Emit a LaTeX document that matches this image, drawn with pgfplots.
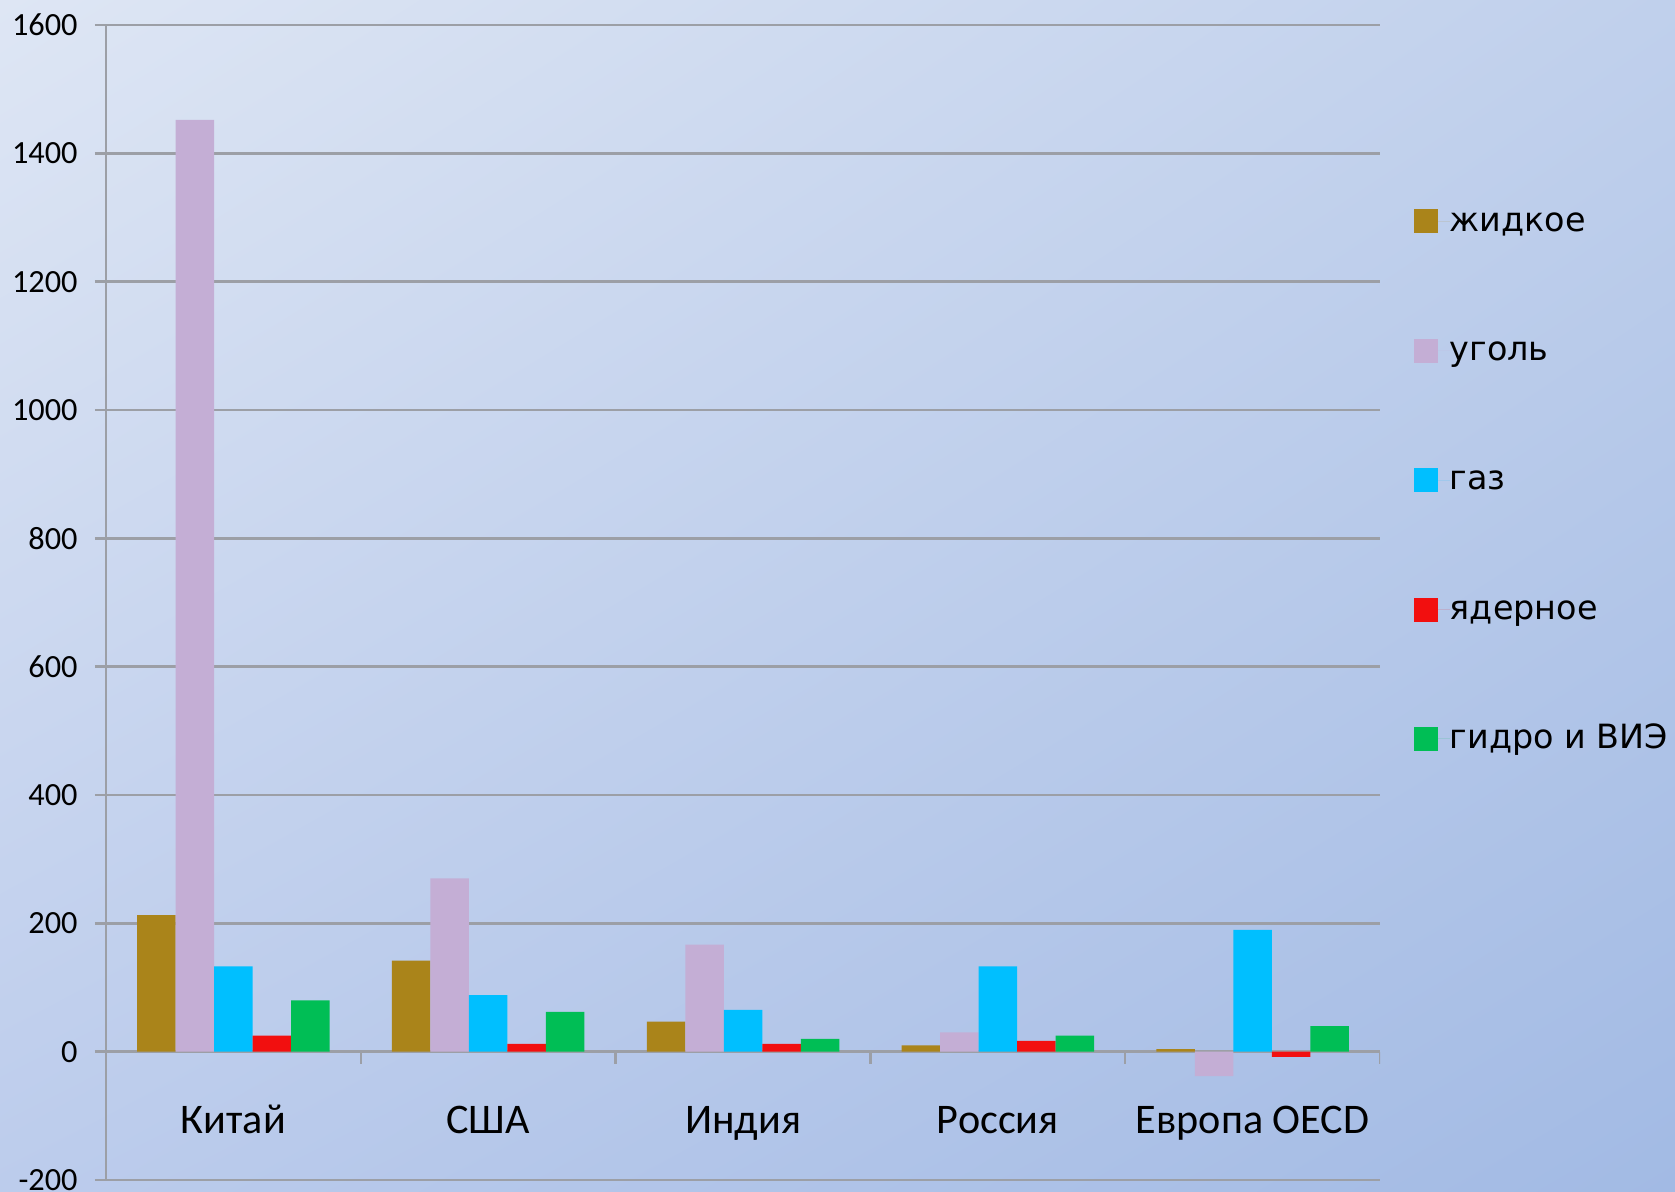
\documentclass[border=0pt]{standalone}
\usepackage{pgfplots}
\pgfplotsset{compat=1.18}
\usetikzlibrary{shadings}
\usepackage{fontspec}
\setmainfont{Carlito}
\newfontfamily\dejavu{DejaVu Sans}
\definecolor{cliq}{HTML}{AA841A}
\definecolor{ccoal}{HTML}{C4AED5}
\definecolor{cgas}{HTML}{00BFFF}
\definecolor{cnuc}{HTML}{F20F0F}
\definecolor{chyd}{HTML}{00BE55}
\definecolor{gridgray}{HTML}{9C9FA6}
\definecolor{bgul}{RGB}{222,230,244}
\definecolor{bgur}{RGB}{192,208,236}
\definecolor{bgll}{RGB}{188,204,236}
\definecolor{bglr}{RGB}{162,186,228}
\begin{document}
\begin{tikzpicture}
\useasboundingbox (0,0) rectangle (16.75,11.91);
\shade[upper left=bgul, upper right=bgur, lower left=bgll, lower right=bglr]
  (0,0) rectangle (16.75,11.91);
\begin{axis}[
  at={(1.06cm,0.11cm)}, anchor=south west,
  scale only axis, width=12.74cm, height=11.55cm,
  ybar=0pt, bar width=0.385cm,
  xmin=-0.5, xmax=4.5, ymin=-200, ymax=1600,
  xtick={0,1,2,3,4},
  xticklabels={Китай,США,Индия,Россия,Европа OECD},
  major x tick style={draw=none},
  xticklabel style={anchor=base, yshift=0.58cm, inner sep=0pt, font=\fontsize{12}{14}\selectfont},
  ytick={-200,0,200,400,600,800,1000,1200,1400,1600},
  scaled y ticks=false,
  /pgf/number format/1000 sep={},
  /pgf/number format/assume math mode=true,
  yticklabel style={font=\fontsize{9.2}{11}\selectfont, xshift=-0.05cm},
  tick align=outside,
  major tick length=0.11cm,
  major y tick style={draw=gridgray, line width=0.7pt},
  axis lines*=left,
  axis line style={draw=gridgray, line width=0.8pt},
  ymajorgrids,
  grid style={draw=gridgray, line width=0.7pt},
  legend style={at={(1.026,0.845)}, anchor=north west, draw=none, fill=none,
    inner sep=0pt, row sep=0.96cm,
    font=\dejavu\fontsize{9.5}{11}\selectfont,
    nodes={inner sep=0pt, text height=7.5pt, text depth=2pt}},
  legend cell align=left,
  legend image code/.code={\fill[#1,draw=none] (0cm,-0.12cm) rectangle (0.24cm,0.12cm); \path (0.24cm,0) -- (0.36cm,0);},
]
\addplot[fill=cliq, draw=none] coordinates {(0,213) (1,142) (2,47) (3,10) (4,4)};
\addplot[fill=ccoal, draw=none] coordinates {(0,1452) (1,270) (2,167) (3,30) (4,-38)};
\addplot[fill=cgas, draw=none] coordinates {(0,133) (1,88) (2,65) (3,133) (4,190)};
\addplot[fill=cnuc, draw=none] coordinates {(0,25) (1,12) (2,12) (3,17) (4,-8)};
\addplot[fill=chyd, draw=none] coordinates {(0,80) (1,62) (2,20) (3,25) (4,40)};
\legend{жидкое,уголь,газ,ядерное,гидро и ВИЭ}
\pgfplotsinvokeforeach{0.5,1.5,2.5,3.5,4.5}{
  \draw[gridgray, line width=0.7pt] (axis cs:#1,0) -- ([yshift=-0.12cm]axis cs:#1,0);
}
\end{axis}
\end{tikzpicture}
\end{document}
